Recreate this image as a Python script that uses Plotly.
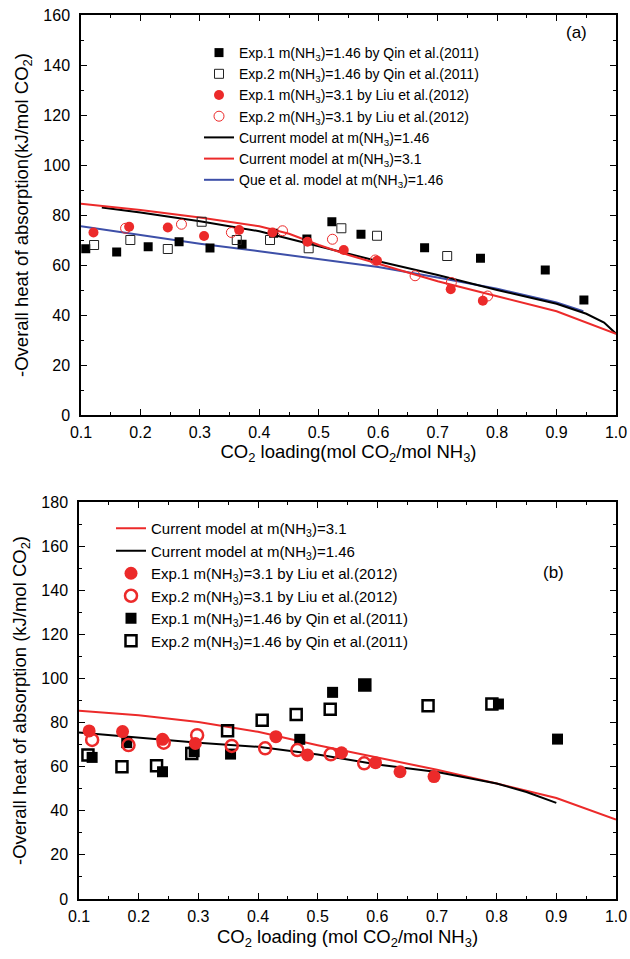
import plotly.graph_objects as go

# ---------------- Panel (a) data ----------------
a_qin1_x = [0.108, 0.160, 0.213, 0.265, 0.317, 0.371, 0.424, 0.480, 0.522, 0.571, 0.678, 0.772, 0.881, 0.946]
a_qin1_y = [66.5, 65.2, 67.3, 69.3, 66.8, 68.3, 72.7, 70.4, 77.3, 72.3, 66.9, 62.7, 58.0, 46.0]
a_qin2_x = [0.122, 0.183, 0.246, 0.303, 0.362, 0.418, 0.483, 0.538, 0.598, 0.716]
a_qin2_y = [68.0, 70.0, 66.4, 77.3, 70.0, 70.0, 66.7, 74.7, 71.7, 63.6]
a_liu1_x = [0.121, 0.181, 0.246, 0.307, 0.366, 0.422, 0.481, 0.542, 0.598, 0.722, 0.776]
a_liu1_y = [73.0, 75.3, 75.0, 71.6, 74.0, 73.0, 69.3, 66.0, 61.7, 50.3, 45.7]
a_liu2_x = [0.175, 0.269, 0.353, 0.439, 0.523, 0.595, 0.662, 0.723, 0.784]
a_liu2_y = [74.7, 76.3, 73.0, 73.7, 70.3, 62.0, 55.7, 53.0, 47.6]
a_cur146_x = [0.135, 0.2, 0.3, 0.4, 0.5, 0.6, 0.7, 0.8, 0.9, 0.95, 0.98, 1.0]
a_cur146_y = [83.0, 81.0, 77.5, 73.5, 67.5, 61.5, 56.0, 50.0, 44.5, 40.5, 37.0, 32.5]
a_cur31_x = [0.1, 0.2, 0.3, 0.4, 0.45, 0.5, 0.55, 0.6, 0.65, 0.7, 0.8, 0.9, 1.0]
a_cur31_y = [84.5, 82.0, 79.0, 75.5, 72.5, 68.0, 64.0, 60.5, 56.8, 53.5, 47.5, 41.5, 32.5]
a_que_x = [0.1, 0.2, 0.3, 0.4, 0.5, 0.6, 0.7, 0.8, 0.9, 0.945]
a_que_y = [75.5, 72.0, 68.5, 65.5, 62.5, 59.2, 55.0, 50.5, 45.0, 41.5]

# ---------------- Panel (b) data ----------------
b_cur31_x = [0.1, 0.2, 0.3, 0.4, 0.5, 0.6, 0.7, 0.8, 0.9, 1.0]
b_cur31_y = [85.3, 83.3, 80.2, 75.8, 69.7, 64.0, 58.6, 52.4, 45.8, 36.0]
b_cur146_x = [0.1, 0.2, 0.3, 0.4, 0.5, 0.6, 0.7, 0.8, 0.85, 0.9]
b_cur146_y = [75.5, 73.0, 70.8, 69.0, 65.5, 61.0, 57.6, 52.4, 48.5, 43.6]
b_liu1_x = [0.117, 0.173, 0.240, 0.295, 0.430, 0.483, 0.540, 0.597, 0.638, 0.695]
b_liu1_y = [76.2, 75.9, 72.4, 70.5, 73.6, 65.3, 66.3, 61.8, 57.7, 55.5]
b_liu2_x = [0.122, 0.183, 0.242, 0.298, 0.356, 0.412, 0.466, 0.522, 0.578]
b_liu2_y = [72.1, 69.8, 70.9, 74.3, 69.4, 68.3, 67.5, 65.6, 61.5]
b_qin1_x = [0.122, 0.180, 0.240, 0.293, 0.354, 0.470, 0.525, 0.580, 0.803, 0.902]
b_qin1_y = [64.2, 70.9, 57.7, 66.8, 65.7, 72.4, 93.7, 97.0, 88.4, 72.5]
b_qin2_x = [0.115, 0.172, 0.230, 0.289, 0.349, 0.407, 0.464, 0.521, 0.579, 0.685, 0.792]
b_qin2_y = [65.3, 60.0, 60.4, 66.0, 76.3, 81.1, 83.7, 86.0, 97.0, 87.6, 88.4]

x_ticks = [0.1, 0.2, 0.3, 0.4, 0.5, 0.6, 0.7, 0.8, 0.9, 1.0]
x_ticklabels = ["0.1", "0.2", "0.3", "0.4", "0.5", "0.6", "0.7", "0.8", "0.9", "1.0"]
a_yticks = [0, 20, 40, 60, 80, 100, 120, 140, 160]
b_yticks = [0, 20, 40, 60, 80, 100, 120, 140, 160, 180]

RED = "#EC2A2A"
BLUE = "#3D4FA8"
BLACK = "#000000"
FONT = "Liberation Sans, Arial, sans-serif"
NH3 = "m(NH<sub>3</sub>)"

fig = go.Figure()

def addline(x, y, name, color, xa, ya, leg, rank):
    fig.add_trace(go.Scatter(x=x, y=y, mode="lines", name=name, line=dict(color=color, width=2),
                             xaxis=xa, yaxis=ya, legend=leg, legendrank=rank))

def addmark(x, y, name, symbol, color, size, lw, xa, ya, leg, rank):
    fig.add_trace(go.Scatter(x=x, y=y, mode="markers", name=name,
                             marker=dict(symbol=symbol, color=color, size=size,
                                         line=dict(color=color, width=lw)),
                             xaxis=xa, yaxis=ya, legend=leg, legendrank=rank))

# ---- panel (a) ----
addline(a_que_x, a_que_y, "Que et al. model at " + NH3 + "=1.46", BLUE, "x", "y", "legend", 7)
addline(a_cur146_x, a_cur146_y, "Current model at " + NH3 + "=1.46", BLACK, "x", "y", "legend", 5)
addline(a_cur31_x, a_cur31_y, "Current model at " + NH3 + "=3.1", RED, "x", "y", "legend", 6)
addmark(a_qin1_x, a_qin1_y, "Exp.1 " + NH3 + "=1.46 by Qin et al.(2011)", "square", BLACK, 9, 0, "x", "y", "legend", 1)
addmark(a_qin2_x, a_qin2_y, "Exp.2 " + NH3 + "=1.46 by Qin et al.(2011)", "square-open", "#222222", 9, 1, "x", "y", "legend", 2)
addmark(a_liu1_x, a_liu1_y, "Exp.1 " + NH3 + "=3.1 by Liu et al.(2012)", "circle", RED, 10, 0, "x", "y", "legend", 3)
addmark(a_liu2_x, a_liu2_y, "Exp.2 " + NH3 + "=3.1 by Liu et al.(2012)", "circle-open", RED, 10, 1, "x", "y", "legend", 4)

# ---- panel (b) ----
addline(b_cur31_x, b_cur31_y, "Current model at " + NH3 + "=3.1", RED, "x2", "y2", "legend2", 1)
addline(b_cur146_x, b_cur146_y, "Current model at " + NH3 + "=1.46", BLACK, "x2", "y2", "legend2", 2)
addmark(b_qin1_x, b_qin1_y, "Exp.1 " + NH3 + "=1.46 by Qin et al.(2011)", "square", BLACK, 11, 0, "x2", "y2", "legend2", 5)
addmark(b_qin2_x, b_qin2_y, "Exp.2 " + NH3 + "=1.46 by Qin et al.(2011)", "square-open", BLACK, 11, 2.5, "x2", "y2", "legend2", 6)
addmark(b_liu1_x, b_liu1_y, "Exp.1 " + NH3 + "=3.1 by Liu et al.(2012)", "circle", RED, 13, 0, "x2", "y2", "legend2", 3)
addmark(b_liu2_x, b_liu2_y, "Exp.2 " + NH3 + "=3.1 by Liu et al.(2012)", "circle-open", RED, 12, 2.5, "x2", "y2", "legend2", 4)

W, H = 630, 959
def px_x(p):
    return p / W
def px_y(p):
    return 1 - p / H

axis_common = dict(showline=True, linecolor="black", linewidth=1.5, mirror="allticks",
                   ticks="inside", ticklen=6, tickwidth=1.2, tickcolor="black",
                   showgrid=False, zeroline=False, automargin=False,
                   ticklabeloverflow="allow",
                   tickfont=dict(family=FONT, size=16, color="black"))
xaxis_extra = dict(ticklabelstandoff=2)
yaxis_extra = dict(ticklabelstandoff=6)

title_font = dict(family=FONT, size=18.5, color="black")

fig.update_layout(
    width=W, height=H,
    margin=dict(l=0, r=0, t=0, b=0, autoexpand=False),
    paper_bgcolor="white", plot_bgcolor="white",
    font=dict(family=FONT, color="black"),
    xaxis=dict(domain=[px_x(81), px_x(616)], anchor="y", range=[0.1, 1.0],
               tickvals=x_ticks, ticktext=x_ticklabels,
               minor=dict(dtick=0.05, tick0=0.1, ticks="inside", ticklen=3, tickcolor="black"),
               title=dict(text="CO<sub>2</sub> loading(mol CO<sub>2</sub>/mol NH<sub>3</sub>)",
                          font=title_font, standoff=1),
               **axis_common, **xaxis_extra),
    yaxis=dict(domain=[px_y(415), px_y(15)], anchor="x", range=[0, 160],
               tickvals=a_yticks,
               minor=dict(dtick=10, tick0=0, ticks="inside", ticklen=3, tickcolor="black"),
               title=dict(text="-Overall heat of absorption(kJ/mol CO<sub>2</sub>)",
                          font=title_font, standoff=10),
               **axis_common, **yaxis_extra),
    xaxis2=dict(domain=[px_x(79), px_x(616)], anchor="y2", range=[0.1, 1.0],
                tickvals=x_ticks, ticktext=x_ticklabels,
                minor=dict(dtick=0.05, tick0=0.1, ticks="inside", ticklen=3, tickcolor="black"),
                title=dict(text="CO<sub>2</sub> loading (mol CO<sub>2</sub>/mol NH<sub>3</sub>)",
                           font=title_font, standoff=6),
                **axis_common, **xaxis_extra),
    yaxis2=dict(domain=[px_y(899), px_y(502)], anchor="x2", range=[0, 180],
                tickvals=b_yticks,
                minor=dict(dtick=10, tick0=0, ticks="inside", ticklen=3, tickcolor="black"),
                title=dict(text="-Overall heat of absorption (kJ/mol CO<sub>2</sub>)",
                           font=title_font, standoff=10),
                **axis_common, **yaxis_extra),
    legend=dict(x=px_x(199), y=px_y(37), xanchor="left", yanchor="top",
                bgcolor="rgba(0,0,0,0)", borderwidth=0,
                font=dict(family=FONT, size=14, color="black"),
                tracegroupgap=0, itemwidth=30),
    legend2=dict(x=px_x(111), y=px_y(512), xanchor="left", yanchor="top",
                 bgcolor="rgba(0,0,0,0)", borderwidth=0,
                 font=dict(family=FONT, size=15, color="black"),
                 tracegroupgap=0, itemwidth=30),
    showlegend=True,
    annotations=[
        dict(text="(a)", x=px_x(576), y=px_y(33), xref="paper", yref="paper",
             xanchor="center", yanchor="middle",
             showarrow=False, font=dict(family=FONT, size=17, color="black")),
        dict(text="(b)", x=px_x(553), y=px_y(572), xref="paper", yref="paper",
             xanchor="center", yanchor="middle",
             showarrow=False, font=dict(family=FONT, size=17, color="black")),
    ],
)

# remove the browser's default 8px page margin so the figure fills the window exactly
fig.write_html("out.html",
               config={"displayModeBar": False},
               post_script="document.body.style.margin='0px';document.body.style.overflow='hidden';")
